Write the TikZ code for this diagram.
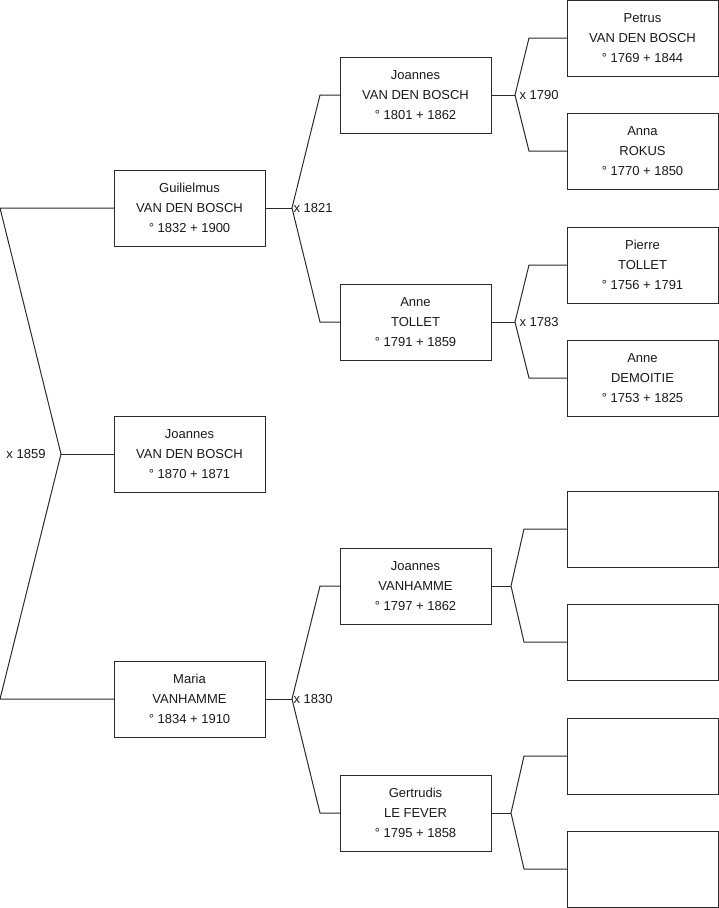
\documentclass[tikz,border=0pt]{standalone}
\usepackage{fontspec}
\setmainfont{Liberation Sans}
\usetikzlibrary{positioning}
\definecolor{treeInk}{HTML}{1A1A1A}
\definecolor{treeLine}{HTML}{2B2B2B}

\begin{document}
\begin{tikzpicture}[x=1pt, y=-1pt, line width=1pt,
    person/.style={draw=treeLine, fill=white, text=treeInk, minimum width=151pt, minimum height=76pt,
      inner sep=0pt, outer sep=0pt, align=center, font=\fontsize{13}{20}\selectfont},
    link/.style={draw=treeLine, line width=1pt},
    wed/.style={text=treeInk, inner sep=0pt, font=\fontsize{13}{16}\selectfont}]
    \useasboundingbox (0,0) rectangle (719,908);

    % generation 1
    \node[person] (guil) at (189.5,208) {Guilielmus\\VAN DEN BOSCH\\° 1832 + 1900};
    \node[person, below=170pt of guil] (child) {Joannes\\VAN DEN BOSCH\\° 1870 + 1871};
    \node[person, below=169pt of child] (maria) {Maria\\VANHAMME\\° 1834 + 1910};

    % generation 2
    \node[person, right=75pt of guil, yshift=113pt] (joannesA) {Joannes\\VAN DEN BOSCH\\° 1801 + 1862};
    \node[person, right=75pt of guil, yshift=-114pt] (anneT) {Anne\\TOLLET\\° 1791 + 1859};
    \node[person, right=75pt of maria, yshift=113pt] (joannesV) {Joannes\\VANHAMME\\° 1797 + 1862};
    \node[person, right=75pt of maria, yshift=-114pt] (gertrudis) {Gertrudis\\LE FEVER\\° 1795 + 1858};

    % generation 3
    \node[person, right=76pt of joannesA, yshift=57pt] (petrus) {Petrus\\VAN DEN BOSCH\\° 1769 + 1844};
    \node[person, right=76pt of joannesA, yshift=-56pt] (anna) {Anna\\ROKUS\\° 1770 + 1850};
    \node[person, right=76pt of anneT, yshift=57pt] (pierre) {Pierre\\TOLLET\\° 1756 + 1791};
    \node[person, right=76pt of anneT, yshift=-56pt] (anneD) {Anne\\DEMOITIE\\° 1753 + 1825};
    \node[person, right=76pt of joannesV, yshift=57pt] (emptyA) {};
    \node[person, right=76pt of joannesV, yshift=-56pt] (emptyB) {};
    \node[person, right=76pt of gertrudis, yshift=57pt] (emptyC) {};
    \node[person, right=76pt of gertrudis, yshift=-56pt] (emptyD) {};

    % marriage forks
    \coordinate (wed0) at ([xshift=-53pt]child.west);
    \coordinate (top0) at ([xshift=-114pt]guil.west);
    \coordinate (bot0) at ([xshift=-114pt]maria.west);
    \draw[link] (guil.west) -- (top0) -- (wed0) -- (bot0) -- (maria.west);
    \draw[link] (wed0) -- (child.west);
    \node[wed, left=15pt of wed0] (x0) {x 1859};

    \coordinate (wed1) at ([xshift=27pt]guil.east);
    \draw[link] (guil.east) -- (wed1);
    \draw[link] (joannesA.west) -- ([xshift=-20pt]joannesA.west) -- (wed1) -- ([xshift=-20pt]anneT.west) -- (anneT.west);
    \node[wed, right=1pt of wed1] (x1) {x 1821};

    \coordinate (wed2) at ([xshift=27pt]maria.east);
    \draw[link] (maria.east) -- (wed2);
    \draw[link] (joannesV.west) -- ([xshift=-20pt]joannesV.west) -- (wed2) -- ([xshift=-20pt]gertrudis.west) -- (gertrudis.west);
    \node[wed, right=1pt of wed2] (x2) {x 1830};

    \coordinate (wed3) at ([xshift=24pt]joannesA.east);
    \draw[link] (joannesA.east) -- (wed3);
    \draw[link] (petrus.west) -- ([xshift=-38pt]petrus.west) -- (wed3) -- ([xshift=-38pt]anna.west) -- (anna.west);
    \node[wed, right=4pt of wed3] (x3) {x 1790};

    \coordinate (wed4) at ([xshift=24pt]anneT.east);
    \draw[link] (anneT.east) -- (wed4);
    \draw[link] (pierre.west) -- ([xshift=-38pt]pierre.west) -- (wed4) -- ([xshift=-38pt]anneD.west) -- (anneD.west);
    \node[wed, right=4pt of wed4] (x4) {x 1783};

    \coordinate (wed5) at ([xshift=20pt]joannesV.east);
    \draw[link] (joannesV.east) -- (wed5);
    \draw[link] (emptyA.west) -- ([xshift=-43pt]emptyA.west) -- (wed5) -- ([xshift=-43pt]emptyB.west) -- (emptyB.west);

    \coordinate (wed6) at ([xshift=20pt]gertrudis.east);
    \draw[link] (gertrudis.east) -- (wed6);
    \draw[link] (emptyC.west) -- ([xshift=-43pt]emptyC.west) -- (wed6) -- ([xshift=-43pt]emptyD.west) -- (emptyD.west);
  \end{tikzpicture}
\end{document}
